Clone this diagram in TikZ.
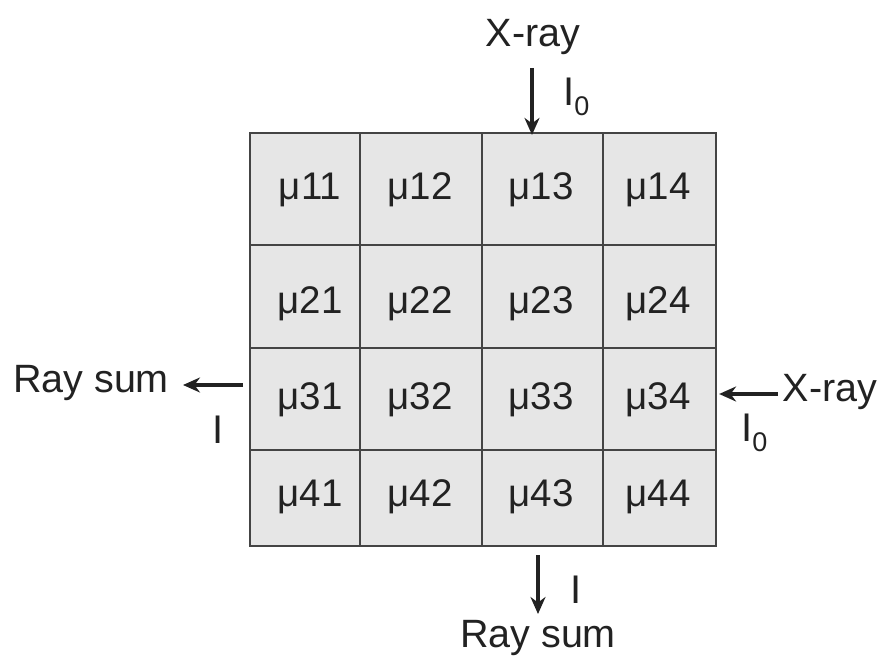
\documentclass[tikz,border=0pt]{standalone}
\usepackage{fontspec}
\setmainfont{Liberation Sans}
\usetikzlibrary{arrows.meta}
\definecolor{cellfill}{HTML}{E6E6E6}
\definecolor{gridline}{HTML}{444444}
\definecolor{ink}{HTML}{222222}
\begin{document}
\begin{tikzpicture}[x=1pt,y=-1pt,
  cell/.style={draw=gridline,line width=2.2pt,fill=cellfill,inner sep=0pt},
  ctext/.style={inner sep=0pt,font=\fontsize{38.5}{42}\selectfont,text=ink},
  lbl/.style={inner sep=0pt,font=\fontsize{39.5}{44}\selectfont,text=ink},
  ilbl/.style={inner sep=0pt,font=\fontsize{40}{44}\selectfont,text=ink},
  arr/.style={draw=ink,line width=3.5pt,-{Stealth[length=17pt,width=15pt]}}]
\useasboundingbox (0,0) rectangle (881,660);
% columns: 250 360 482 603 716 ; rows: 133 245 348 450 546
\def\cellrow#1#2#3{%
  \node[cell,minimum width=110pt,minimum height=#3pt] (c#11) at (305,#2) {};
  \node[cell,minimum width=122pt,minimum height=#3pt] (c#12) at (421,#2) {};
  \node[cell,minimum width=121pt,minimum height=#3pt] (c#13) at (542.5,#2) {};
  \node[cell,minimum width=113pt,minimum height=#3pt] (c#14) at (659.5,#2) {};}
\cellrow{1}{189}{112}
\cellrow{2}{296.5}{103}
\cellrow{3}{399}{102}
\cellrow{4}{498}{96}
% labels in cells
\foreach \r/\y in {1/190,2/304,3/400,4/497}{
  \foreach \c/\x in {1/310,2/420,3/541,4/658}{
    \node[ctext] (t\r\c) at (\x,\y) {μ\r\c};
  }
}
% top
\node[lbl] (xtop) at (533,37) {X-ray};
\coordinate (atop) at (532,68);
\draw[arr] (atop) -- ([yshift=-3pt]atop |- c13.north);
\node[ilbl,anchor=west] (i0top) at (563,97) {I\textsubscript{\fontsize{27}{30}\selectfont 0}};
% left
\node[lbl] (rsleft) at (91,383) {Ray sum};
\coordinate (aleft) at (243,385);
\draw[arr] (aleft) -- (183,385) coordinate (aleftend);
\node[ilbl] (ileft) at (218,430) {I};
% right
\node[lbl] (xright) at (830,392) {X-ray};
\coordinate (aright) at (778,394);
\draw[arr] (aright) -- ([xshift=2pt]aright -| c34.east);
\node[ilbl,anchor=west] (i0right) at (741,433) {I\textsubscript{\fontsize{27}{30}\selectfont 0}};
% bottom
\coordinate (abot) at (538,555);
\draw[arr] (abot) -- (538,614) coordinate (abotend);
\node[ilbl] (ibot) at (576,590) {I};
\node[lbl] (rsbot) at (538,638) {Ray sum};
\end{tikzpicture}
\end{document}
